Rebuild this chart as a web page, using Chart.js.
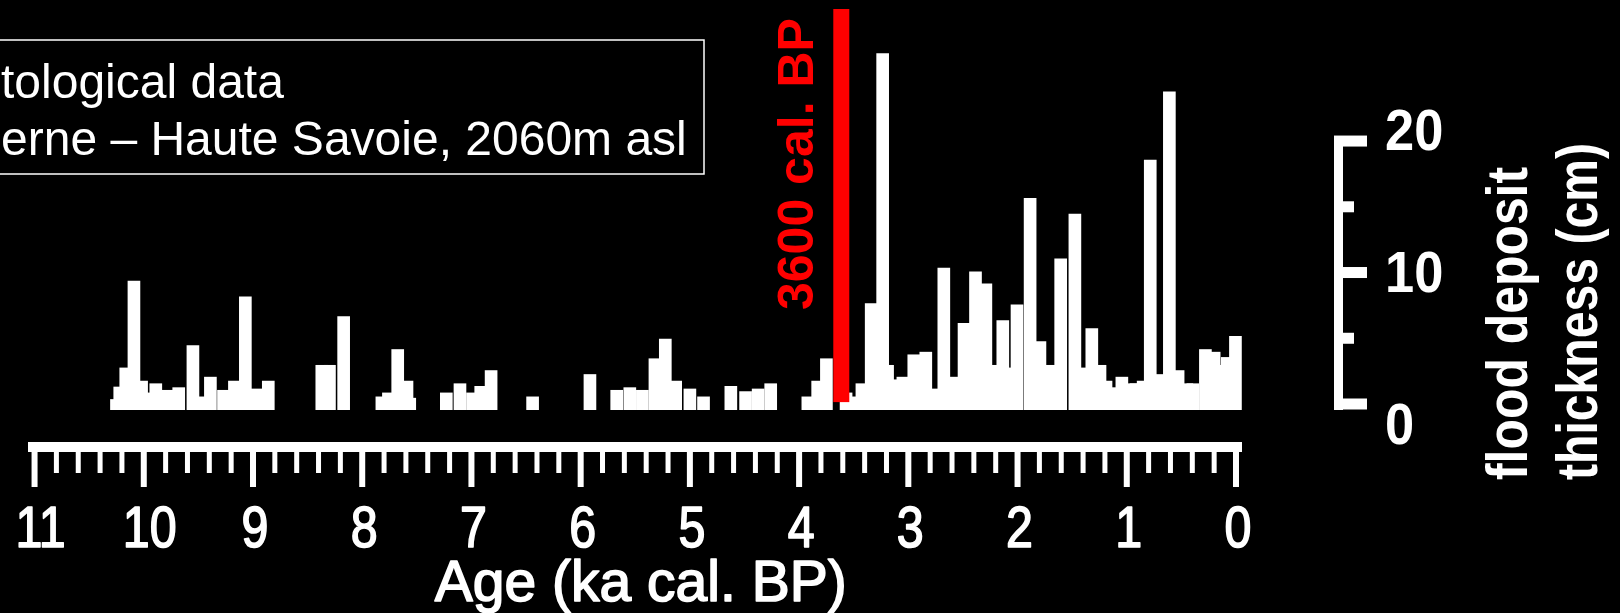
<!DOCTYPE html>
<html>
<head>
<meta charset="utf-8">
<title>Flood deposit thickness</title>
<script src="https://cdn.jsdelivr.net/npm/chart.js@4.4.1/dist/chart.umd.min.js"></script>
<style>
  html, body { margin: 0; padding: 0; background: #000; overflow: hidden; }
  #wrap { width: 1620px; height: 613px; position: relative; }
</style>
</head>
<body>
<div id="wrap"><canvas id="chart"></canvas></div>
<script>
// flood events: age (ka cal. BP) and deposit thickness (cm)
const ages = [
  10.25, 10.22, 10.165, 10.09, 10.02, 9.96, 9.89, 9.79, 9.68, 9.55, 9.48, 9.39, 9.27, 9.17, 9.07, 8.965, 8.86,
  8.37, 8.30, 8.17,
  7.82, 7.76, 7.675, 7.59, 7.565,
  7.23, 7.105, 6.99, 6.915, 6.82,
  6.44,
  5.915, 5.67, 5.55, 5.435, 5.32, 5.225, 5.13, 5.0, 4.875,
  4.625, 4.49, 4.375, 4.26,
  3.92, 3.83, 3.75, 3.57,
  3.48, 3.425, 3.34, 3.235, 3.19, 3.10, 3.05, 2.95, 2.84, 2.775,
  2.675, 2.575, 2.49, 2.385, 2.29, 2.205, 2.135, 2.08, 2.005, 1.885,
  1.795, 1.71, 1.605, 1.475, 1.39, 1.32, 1.245, 1.19, 1.125, 1.045,
  0.945, 0.915, 0.85, 0.785, 0.695, 0.61, 0.53, 0.45, 0.395, 0.28,
  0.20, 0.135, 0.08, 0.005
];
const thickness = [
  0.8, 1.75, 3.2, 9.8, 2.2, 1.3, 2.0, 1.5, 1.7, 4.9, 1.0, 2.5, 1.5, 2.2, 8.6, 1.6, 2.2,
  3.4, 3.4, 7.1,
  1.0, 1.3, 4.6, 2.2, 0.9,
  1.3, 2.0, 1.3, 1.8, 3.0,
  1.0,
  2.7, 1.5, 1.7, 1.5, 3.9, 5.4, 2.2, 1.6, 1.0,
  1.8, 1.4, 1.6, 2.0,
  1.0, 2.2, 3.9, 1.3,
  1.0, 2.0, 8.1, 27.1, 3.4, 2.3, 2.5, 4.2, 4.4, 1.6,
  10.8, 2.5, 6.6, 10.5, 9.6, 3.4, 6.8, 3.2, 8.0, 16.1,
  5.2, 3.4, 11.5, 14.9, 3.2, 6.2, 3.4, 2.2, 1.7, 2.5,
  2.0, 2.0, 2.2, 19.0, 2.7, 24.2, 3.0, 2.0, 2.0, 4.6,
  4.4, 3.4, 4.0, 5.6
];

const xTicks = [11, 10, 9, 8, 7, 6, 5, 4, 3, 2, 1, 0];
const xTickLabels = ['11', '10', '9', '8', '7', '6', '5', '4', '3', '2', '1', '0'];
const yTicks = [0, 10, 20];
const yTickLabels = ['0', '10', '20'];
const markerAge = 3.6;
const markerLabel = '3600 cal. BP';
const xTitle = 'Age (ka cal. BP)';
const yTitle = ['flood deposit', 'thickness (cm)'];
const boxLines = ['tological data', 'erne \u2013 Haute Savoie, 2060m asl'];

const SANS = '"Liberation Sans", Arial, sans-serif';

// heavy = extra outline to thicken the regular face a little
function text(ctx, str, x, y, font, align, sx, rotate, heavy) {
  ctx.save();
  ctx.translate(x, y);
  if (rotate) ctx.rotate(-Math.PI / 2);
  ctx.scale(sx, 1);
  ctx.font = font;
  ctx.textAlign = align;
  ctx.textBaseline = 'alphabetic';
  ctx.fillText(str, 0, 0);
  if (heavy) {
    ctx.lineWidth = heavy;
    ctx.lineJoin = 'round';
    ctx.strokeText(str, 0, 0);
  }
  ctx.restore();
}

const overlay = {
  id: 'overlay',
  afterDatasetsDraw(chart) {
    const { ctx, chartArea, scales: { x, y } } = chart;
    const px = x.getPixelForValue(markerAge);
    ctx.save();
    ctx.fillStyle = '#ff0000';
    ctx.fillRect(px - 9.5, chartArea.top, 16, y.getPixelForValue(0.6) - chartArea.top);
    text(ctx, markerLabel, px - 30, 310, 'bold 50px ' + SANS, 'left', 1, true);
    ctx.restore();
  },
  afterDraw(chart) {
    const { ctx, chartArea, scales: { x, y } } = chart;
    ctx.save();
    ctx.fillStyle = '#fff';
    ctx.strokeStyle = '#fff';

    // bottom age axis: thick bar with hanging ticks every 200 years
    const barTop = chartArea.bottom + 32;
    ctx.fillRect(chartArea.left, barTop, chartArea.right - chartArea.left, 10);
    for (let i = 0; i <= 55; i++) {
      const px = x.getPixelForValue(i / 5);
      if (i % 5 === 0) ctx.fillRect(px - 3, barTop + 9, 6, 36);
      else ctx.fillRect(px - 2.5, barTop + 9, 5, 22);
    }
    xTicks.forEach((v, i) => {
      const nudge = v >= 10 ? 6 : 2;
      text(ctx, xTickLabels[i], x.getPixelForValue(v) + nudge, 547, '57px ' + SANS, 'center', 0.85, false, 1.6);
    });
    text(ctx, xTitle, x.getPixelForValue(5.45), 601, '57px ' + SANS, 'center', 1.0, false, 1.6);

    // thickness scale bracket on the right
    const ax = 1339;
    const p = v => y.getPixelForValue(v) - 6;
    ctx.fillRect(ax - 5, p(20) - 5, 9, p(0) - p(20) + 11);
    [0, 5, 10, 15, 20].forEach(v => {
      const len = v % 10 === 0 ? 33 : 20;
      ctx.fillRect(ax - 5, p(v) - 5.5, len, 11);
    });
    const yOff = [19, -2, -12];
    yTicks.forEach((v, i) => {
      text(ctx, yTickLabels[i], 1385, p(v) + yOff[i] + 21, 'bold 57px ' + SANS, 'left', 0.92, false);
    });
    text(ctx, yTitle[0], 1527, 480, 'bold 58px ' + SANS, 'left', 0.86, true);
    text(ctx, yTitle[1], 1597, 480, 'bold 58px ' + SANS, 'left', 0.83, true);

    // site box, top left
    ctx.lineWidth = 1.5;
    ctx.strokeRect(-5, 40, 709, 134);
    text(ctx, boxLines[0], 1, 98, '48px ' + SANS, 'left', 1, false);
    text(ctx, boxLines[1], 1, 155, '48px ' + SANS, 'left', 1, false);
    ctx.restore();
  }
};

new Chart(document.getElementById('chart'), {
  type: 'bar',
  data: {
    datasets: [{
      data: ages.map((a, i) => ({ x: a, y: thickness[i] })),
      backgroundColor: '#ffffff',
      borderWidth: 0,
      barThickness: 12
    }]
  },
  options: {
    responsive: true,
    maintainAspectRatio: false,
    animation: false,
    devicePixelRatio: 1,
    layout: { padding: { left: 28, right: 378, top: 9, bottom: 203 } },
    scales: {
      x: { type: 'linear', reverse: true, min: -0.055, max: 11.06, offset: false, display: false },
      y: { min: 0, max: 30.5, display: false }
    },
    plugins: { legend: { display: false }, tooltip: { enabled: false } }
  },
  plugins: [overlay]
});
</script>
</body>
</html>
